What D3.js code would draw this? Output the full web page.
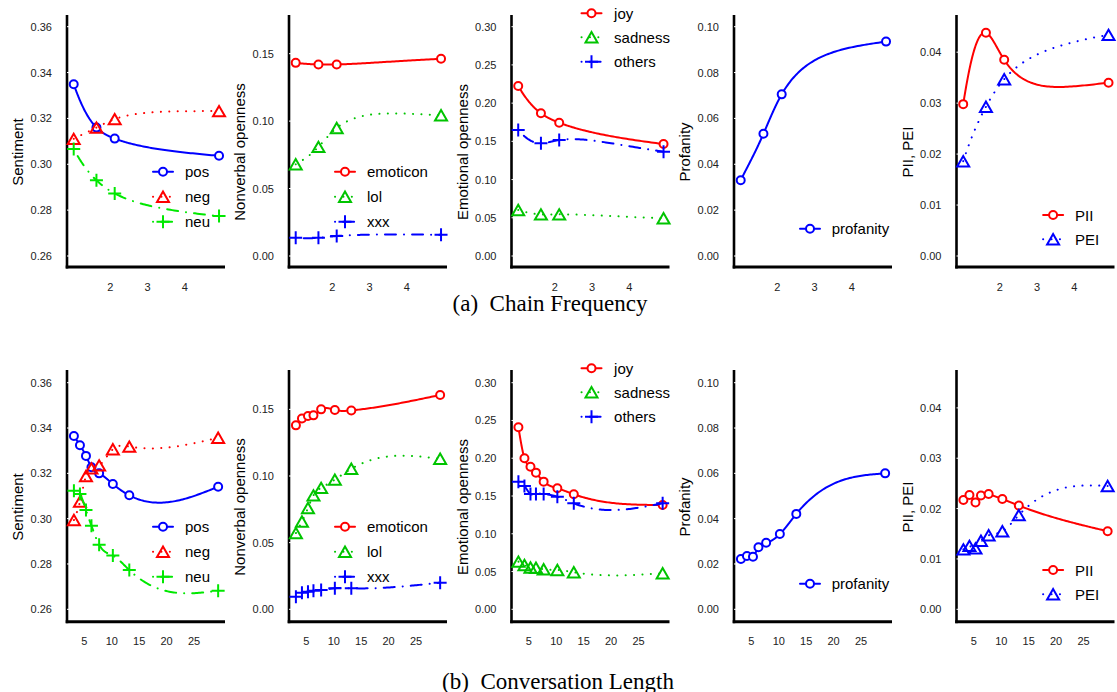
<!DOCTYPE html>
<html><head><meta charset="utf-8">
<script src="https://cdn.jsdelivr.net/npm/d3@7"></script>
<style>body{margin:0;background:#fff;} svg{display:block;}</style>
</head><body>
<svg id="chart" width="1117" height="692"></svg>
<script>
// ---------------- data ----------------
const chainX = [1.02, 1.63, 2.12, 4.92];
const lengthX = [3.1, 4.2, 5.3, 6.3, 7.7, 10.2, 13.2, 29.4];
const chainXTicks = [2, 3, 4];
const lengthXTicks = [5, 10, 15, 20, 25];
const chainXDomain = [0.84, 5.08];
const lengthXDomain = [1.84, 30.65];

const sentimentTicks = [0.26, 0.28, 0.30, 0.32, 0.34, 0.36];
const nonverbalTicks = [0.00, 0.05, 0.10, 0.15];
const emotionalTicks = [0.00, 0.05, 0.10, 0.15, 0.20, 0.25, 0.30];
const profanityTicks = [0.00, 0.02, 0.04, 0.06, 0.08, 0.10];
const piiTicks = [0.00, 0.01, 0.02, 0.03, 0.04];

const sentimentLim = [0.26, 0.36];
const nonverbalLim = [0, 0.17];
const emotionalLim = [0, 0.30];
const profanityLim = [0, 0.10];
const piiLim = [0, 0.045];

// (a) Chain Frequency
const chainPos = [0.3349, 0.3160, 0.3112, 0.3037];
const chainNeg = [0.3111, 0.3160, 0.3197, 0.3232];
const chainNeu = [0.3067, 0.2930, 0.2873, 0.2774];
const chainEmoticon = [0.1432, 0.1420, 0.1420, 0.1462];
const chainLol = [0.0680, 0.0809, 0.0949, 0.1043];
const chainXxx = [0.0135, 0.0135, 0.0148, 0.0158];
const chainJoy = [0.2224, 0.1867, 0.1744, 0.1465];
const chainSadness = [0.0602, 0.0545, 0.0545, 0.0493];
const chainOthers = [0.1649, 0.1474, 0.1518, 0.1365];
const chainProfanity = [0.0330, 0.0533, 0.0705, 0.0935];
const chainPII = [0.0298, 0.0438, 0.0385, 0.0340];
const chainPEI = [0.0186, 0.0293, 0.0347, 0.0434];

// (b) Conversation Length
const lengthPos = [0.3365, 0.3324, 0.3277, 0.3227, 0.3200, 0.3153, 0.3103, 0.3141];
const lengthNeg = [0.2994, 0.3075, 0.3188, 0.3222, 0.3235, 0.3306, 0.3318, 0.3357];
const lengthNeu = [0.3123, 0.3109, 0.3038, 0.2969, 0.2885, 0.2837, 0.2773, 0.2682];
const lengthEmoticon = [0.1380, 0.1432, 0.1450, 0.1455, 0.1500, 0.1495, 0.1492, 0.1608];
const lengthLol = [0.0572, 0.0659, 0.0760, 0.0855, 0.0911, 0.0973, 0.1054, 0.1129];
const lengthXxx = [0.0095, 0.0125, 0.0132, 0.0140, 0.0145, 0.0158, 0.0158, 0.0200];
const lengthJoy = [0.2410, 0.2000, 0.1888, 0.1809, 0.1690, 0.1602, 0.1523, 0.1381];
const lengthSadness = [0.0631, 0.0587, 0.0553, 0.0551, 0.0530, 0.0521, 0.0490, 0.0477];
const lengthOthers = [0.1690, 0.1632, 0.1527, 0.1527, 0.1527, 0.1491, 0.1403, 0.1403];
const lengthProfanity = [0.0222, 0.0235, 0.0232, 0.0274, 0.0294, 0.0332, 0.0421, 0.0600];
const lengthPII = [0.0217, 0.0227, 0.0212, 0.0226, 0.0229, 0.0219, 0.0206, 0.0155];
const lengthPEI = [0.0119, 0.0126, 0.0121, 0.0136, 0.0147, 0.0155, 0.0187, 0.0245];

const captions = ["(a)\u00a0\u00a0Chain Frequency", "(b)\u00a0\u00a0Conversation Length"];

// ---------------- styles ----------------
const RED = "#ff0000", BLUE = "#0000ff", GREEN = "#00c400", LGREEN = "#00e800";
const DOT = "0.1,8.3", DASHDOT = "0.1,8,11,8";
const styles = {
  pos: {color: BLUE, dash: null, marker: "circle"},
  neg: {color: RED, dash: DOT, marker: "triangle"},
  neu: {color: LGREEN, dash: DASHDOT, marker: "plus"},
  emoticon: {color: RED, dash: null, marker: "circle"},
  lol: {color: GREEN, dash: DOT, marker: "triangle"},
  xxx: {color: BLUE, dash: DASHDOT, marker: "plus"},
  joy: {color: RED, dash: null, marker: "circle"},
  sadness: {color: GREEN, dash: DOT, marker: "triangle"},
  others: {color: BLUE, dash: DASHDOT, marker: "plus"},
  profanity: {color: BLUE, dash: null, marker: "circle"},
  PII: {color: RED, dash: null, marker: "circle"},
  PEI: {color: BLUE, dash: DOT, marker: "triangle"}
};

const rows = [
  {x: chainX, xTicks: chainXTicks, xDomain: chainXDomain, top: 15, bottom: 267, inner: [256, 26.7],
   smooth: "log", captionX: 550, captionY: 303,
   values: {pos: chainPos, neg: chainNeg, neu: chainNeu, emoticon: chainEmoticon, lol: chainLol, xxx: chainXxx,
            joy: chainJoy, sadness: chainSadness, others: chainOthers, profanity: chainProfanity, PII: chainPII, PEI: chainPEI}},
  {x: lengthX, xTicks: lengthXTicks, xDomain: lengthXDomain, top: 370, bottom: 621.7, inner: [609.3, 382.7],
   smooth: "linear", captionX: 558, captionY: 681,
   values: {pos: lengthPos, neg: lengthNeg, neu: lengthNeu, emoticon: lengthEmoticon, lol: lengthLol, xxx: lengthXxx,
            joy: lengthJoy, sadness: lengthSadness, others: lengthOthers, profanity: lengthProfanity, PII: lengthPII, PEI: lengthPEI}}
];

const panels = [
  {ax: 67, ylab: "Sentiment", ylim: sentimentLim, ticks: sentimentTicks, keys: ["pos", "neg", "neu"],
   leg: {mx: 96, tx: 118, ys: [156.7, 181.7, 206.7]}},
  {ax: 289, ylab: "Nonverbal openness", ylim: nonverbalLim, ticks: nonverbalTicks, keys: ["emoticon", "lol", "xxx"],
   leg: {mx: 56, tx: 78, ys: [156.7, 181.7, 206.7]}},
  {ax: 511.5, ylab: "Emotional openness", ylim: emotionalLim, ticks: emotionalTicks, keys: ["joy", "sadness", "others"],
   leg: {mx: 80, tx: 102.6, ys: [-1.7, 22.2, 46.7]}},
  {ax: 734, ylab: "Profanity", ylim: profanityLim, ticks: profanityTicks, keys: ["profanity"],
   leg: {mx: 76, tx: 97.7, ys: [213.7]}},
  {ax: 956.5, ylab: "PII, PEI", ylim: piiLim, ticks: piiTicks, keys: ["PII", "PEI"],
   leg: {mx: 96.6, tx: 118.6, ys: [200, 224.3]}}
];
const PW = 158;
const FONT = "'Liberation Sans', Arial, Helvetica, sans-serif";

// ---------------- natural cubic spline of y against u ----------------
function naturalSpline(u, yv) {
  const n = u.length, h = [], alpha = [0], l = [1], mu = [0], z = [0];
  const c = new Array(n).fill(0), b = [], d = [];
  for (let i = 0; i < n - 1; i++) h[i] = u[i + 1] - u[i];
  for (let i = 1; i < n - 1; i++) alpha[i] = 3 / h[i] * (yv[i + 1] - yv[i]) - 3 / h[i - 1] * (yv[i] - yv[i - 1]);
  for (let i = 1; i < n - 1; i++) {
    l[i] = 2 * (u[i + 1] - u[i - 1]) - h[i - 1] * mu[i - 1];
    mu[i] = h[i] / l[i];
    z[i] = (alpha[i] - h[i - 1] * z[i - 1]) / l[i];
  }
  for (let j = n - 2; j >= 1; j--) c[j] = z[j] - mu[j] * c[j + 1];
  for (let j = 0; j < n - 1; j++) {
    b[j] = (yv[j + 1] - yv[j]) / h[j] - h[j] * (c[j + 1] + 2 * c[j]) / 3;
    d[j] = (c[j + 1] - c[j]) / (3 * h[j]);
  }
  return (j, t) => yv[j] + b[j] * t + c[j] * t * t + d[j] * t * t * t;
}
function splinePoints(mode, xv, yv) {
  const fwd = mode === "log" ? Math.log : (v => v);
  const inv = mode === "log" ? Math.exp : (v => v);
  const u = xv.map(fwd), f = naturalSpline(u, yv), out = [], steps = 60;
  for (let j = 0; j < u.length - 1; j++) {
    const h = u[j + 1] - u[j];
    for (let s = (j ? 1 : 0); s <= steps; s++) out.push([inv(u[j] + h * s / steps), f(j, h * s / steps)]);
  }
  return out;
}

// ---------------- drawing ----------------
const svg = d3.select("#chart");
svg.append("rect").attr("width", 1117).attr("height", 692).attr("fill", "#fff");

function drawMarker(g, type, x, y, color) {
  if (type === "circle") {
    g.append("circle").attr("cx", x).attr("cy", y).attr("r", 4)
      .attr("fill", "#fff").attr("stroke", color).attr("stroke-width", 2);
  } else if (type === "triangle") {
    g.append("path").attr("d", `M${x},${y - 5.2}L${x + 6},${y + 5.2}L${x - 6},${y + 5.2}Z`)
      .attr("fill", "none").attr("stroke", color).attr("stroke-width", 2);
  } else {
    g.append("path").attr("d", `M${x - 6.5},${y}H${x + 6.5}M${x},${y - 6.5}V${y + 6.5}`)
      .attr("fill", "none").attr("stroke", color).attr("stroke-width", 2);
  }
}

rows.forEach((row, ri) => {
  panels.forEach(p => {
    const g = svg.append("g");
    const xs = d3.scaleLinear().domain(row.xDomain).range([p.ax, p.ax + PW]);
    const ys = d3.scaleLinear().domain(p.ylim).range(row.inner);

    g.append("line").attr("x1", p.ax).attr("x2", p.ax).attr("y1", row.top).attr("y2", row.bottom + 1.5)
      .attr("stroke", "#000").attr("stroke-width", 2.6);
    g.append("line").attr("x1", p.ax - 1.3).attr("x2", p.ax + PW).attr("y1", row.bottom).attr("y2", row.bottom)
      .attr("stroke", "#000").attr("stroke-width", 3);

    p.ticks.forEach(t => {
      g.append("line").attr("x1", p.ax).attr("x2", p.ax + 2.5).attr("y1", ys(t)).attr("y2", ys(t))
        .attr("stroke", "#fff").attr("stroke-width", 1);
      g.append("text").attr("x", p.ax - 15).attr("y", ys(t)).attr("text-anchor", "end")
        .attr("dominant-baseline", "central").attr("font-family", FONT).attr("font-size", 11)
        .attr("fill", "#222").text(d3.format(".2f")(t));
    });
    row.xTicks.forEach(t => {
      g.append("text").attr("x", xs(t)).attr("y", row.bottom + 19.5).attr("text-anchor", "middle")
        .attr("dominant-baseline", "central").attr("font-family", FONT).attr("font-size", 11)
        .attr("fill", "#222").text(t);
    });
    g.append("text").attr("transform", `translate(${p.ax - 49.5},${row.top + 137}) rotate(-90)`)
      .attr("text-anchor", "middle").attr("dominant-baseline", "central")
      .attr("font-family", FONT).attr("font-size", 15).attr("fill", "#000").text(p.ylab);

    const line = d3.line().x(d => xs(d[0])).y(d => ys(d[1]));
    p.keys.forEach(k => {
      const st = styles[k];
      const vals = row.values[k];
      g.append("path").attr("d", line(splinePoints(row.smooth, row.x, vals))).attr("fill", "none")
        .attr("stroke", st.color).attr("stroke-width", 2).attr("stroke-linecap", "round")
        .attr("stroke-linejoin", "round").attr("stroke-dasharray", st.dash);
      vals.forEach((v, i) => drawMarker(g, st.marker, xs(row.x[i]), ys(v), st.color));
    });

    p.keys.forEach((k, i) => {
      const st = styles[k];
      const ly = row.top + p.leg.ys[i];
      const mx = p.ax + p.leg.mx;
      g.append("line").attr("x1", mx - 10).attr("x2", mx + 10).attr("y1", ly).attr("y2", ly)
        .attr("stroke", st.color).attr("stroke-width", 2).attr("stroke-linecap", "round")
        .attr("stroke-dasharray", st.dash);
      drawMarker(g, st.marker, mx, ly, st.color);
      g.append("text").attr("x", p.ax + p.leg.tx).attr("y", ly).attr("dominant-baseline", "central")
        .attr("font-family", FONT).attr("font-size", 15).attr("fill", "#000").text(k);
    });
  });

  svg.append("text").attr("x", row.captionX).attr("y", row.captionY).attr("text-anchor", "middle")
    .attr("dominant-baseline", "central").attr("font-family", "'Liberation Serif', 'Times New Roman', serif")
    .attr("font-size", 23).attr("fill", "#000").text(captions[ri]);
});
</script>
</body></html>
